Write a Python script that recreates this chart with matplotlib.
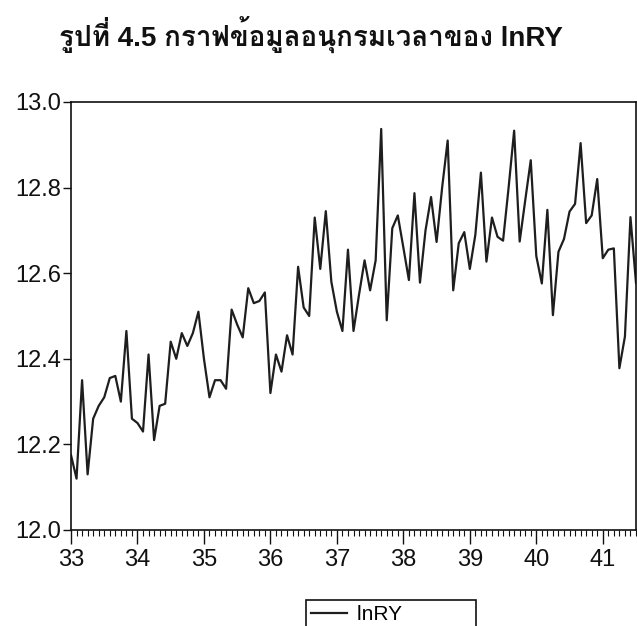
import numpy as np
import matplotlib
matplotlib.use('Agg')
import matplotlib.pyplot as plt
from matplotlib import font_manager
from matplotlib.ft2font import FT2Font
from matplotlib.ticker import MultipleLocator

# monthly lnRY, starting at year 33 (Jan)
start_year = 33
lnry = [12.175, 12.12, 12.35, 12.13, 12.26, 12.29, 12.31, 12.355, 12.36, 12.30, 12.465, 12.26,
        12.25, 12.23, 12.41, 12.21, 12.29, 12.295, 12.44, 12.40, 12.46, 12.43, 12.46, 12.51,
        12.40, 12.31, 12.35, 12.35, 12.33, 12.515, 12.48, 12.45, 12.565, 12.53, 12.535, 12.555,
        12.32, 12.41, 12.37, 12.455, 12.41, 12.615, 12.52, 12.50, 12.73, 12.61, 12.745, 12.58,
        12.51, 12.465, 12.655, 12.465, 12.55, 12.63, 12.56, 12.63, 12.937, 12.49, 12.705, 12.735,
        12.66, 12.584, 12.787, 12.578, 12.70, 12.778, 12.673, 12.80, 12.91, 12.56, 12.67, 12.696,
        12.61, 12.69, 12.835, 12.627, 12.73, 12.685, 12.676, 12.80, 12.933, 12.674, 12.77, 12.864,
        12.64, 12.576, 12.748, 12.502, 12.65, 12.68, 12.744, 12.762, 12.904, 12.717, 12.735, 12.82,
        12.635, 12.655, 12.658, 12.378, 12.452, 12.731, 12.577]
year_ticks = [33, 34, 35, 36, 37, 38, 39, 40, 41]
y_ticks = [12.0, 12.2, 12.4, 12.6, 12.8, 13.0]

title = 'รูปที่ 4.5 กราฟข้อมูลอนุกรมเวลาของ lnRY'


def find_thai_font():
    for f in font_manager.fontManager.ttflist:
        try:
            ft = FT2Font(f.fname)
            if ft.get_char_index(0x0E23):
                return f.name
        except Exception:
            pass
    return None


thai = find_thai_font()
fam = ['Liberation Sans', 'DejaVu Sans']
title_fam = ['Liberation Sans'] + ([thai] if thai else []) + ['DejaVu Sans']

t = start_year + np.arange(len(lnry)) / 12.0

fig = plt.figure(figsize=(6.37, 6.26), dpi=100)
ax = fig.add_axes([71 / 637, 1 - 530 / 626, 565 / 637, 428 / 626])
ax.plot(t, lnry, color='#1e1e1e', lw=1.6, label='lnRY' + ' ' * 12)

ax.set_xlim(33, 41.5)
ax.set_ylim(12.0, 13.0)
ax.set_xticks(year_ticks)
ax.set_xticklabels([str(y) for y in year_ticks])
ax.xaxis.set_minor_locator(MultipleLocator(1 / 12))
ax.set_yticks(y_ticks)
ax.set_yticklabels(['%.1f' % v for v in y_ticks])

ax.tick_params(axis='x', which='major', direction='out', length=10, width=1, pad=4,
               labelsize=17, colors='#111111')
ax.tick_params(axis='x', which='minor', direction='out', length=4.5, width=0.8, colors='#111111')
ax.tick_params(axis='y', direction='out', length=6, width=1, pad=1, labelsize=17,
               colors='#111111')
for lab in ax.get_xticklabels() + ax.get_yticklabels():
    lab.set_family(fam)
for s in ax.spines.values():
    s.set_linewidth(1.2)
    s.set_color('#111111')

fig.text(0.488, 1 - 47 / 626, title, ha='center', va='baseline', fontsize=20,
         fontweight='bold', family=title_fam, color='#111111')

leg = ax.legend(loc='upper left', bbox_to_anchor=(306 / 637, 1 - 600 / 626),
                bbox_transform=fig.transFigure, borderaxespad=0, frameon=True,
                fancybox=False, framealpha=1, edgecolor='#111111', handlelength=1.7,
                handletextpad=0.5, borderpad=0.25, prop={'family': fam, 'size': 15})
leg.get_frame().set_linewidth(1.2)

fig.savefig('out.png', dpi=100)
